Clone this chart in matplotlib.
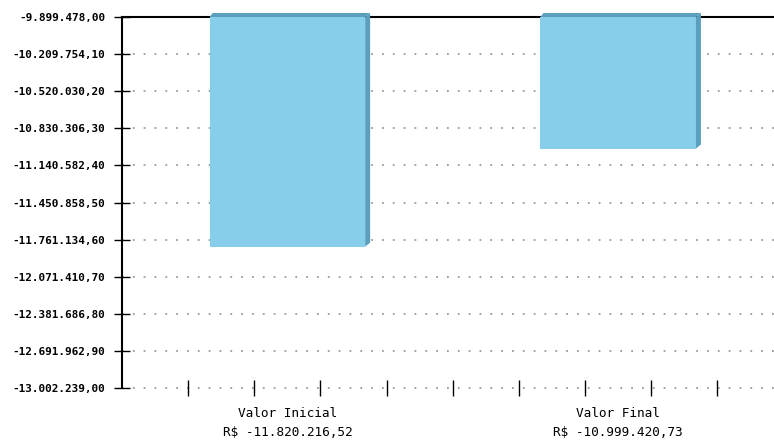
import matplotlib.pyplot as plt
from matplotlib.patches import Polygon

# data
categories = ['Valor Inicial', 'Valor Final']
values = [-11820216.52, -10999420.73]
value_labels = ['R$ -11.820.216,52', 'R$ -10.999.420,73']
y_top = -9899478.00
y_bottom = -13002239.00
y_ticks = [-9899478.00, -10209754.10, -10520030.20, -10830306.30, -11140582.40,
           -11450858.50, -11761134.60, -12071410.70, -12381686.80, -12691962.90,
           -13002239.00]
y_tick_labels = ['-9.899.478,00', '-10.209.754,10', '-10.520.030,20', '-10.830.306,30',
                 '-11.140.582,40', '-11.450.858,50', '-11.761.134,60', '-12.071.410,70',
                 '-12.381.686,80', '-12.691.962,90', '-13.002.239,00']
minor_x = [-0.3, -0.1, 0.1, 0.3, 0.5, 0.7, 0.9, 1.1, 1.3]

face = '#87ceea'
side = '#5a9fbd'
mono = 'DejaVu Sans Mono'

fig = plt.figure(figsize=(7.74, 4.42), dpi=100)
ax = fig.add_axes([122 / 774, 54 / 442, 652 / 774, 371 / 442])

x = list(range(len(categories)))
width = 0.47
ax.bar(x, [v - y_top for v in values], width, bottom=y_top, color=face,
       edgecolor='none', zorder=3)

# fake 3d sides
dx = 5 / 331
dy = 4 * (y_top - y_bottom) / 371
for xi, v in zip(x, values):
    x0, x1 = xi - width / 2, xi + width / 2
    top_face = Polygon([(x0, y_top), (x0 + dx * 0.6, y_top + dy), (x1 + dx, y_top + dy),
                        (x1, y_top)], closed=True, color=side, clip_on=False, zorder=4, lw=0)
    right_face = Polygon([(x1, y_top), (x1 + dx, y_top + dy), (x1 + dx, v + dy),
                          (x1, v)], closed=True, color=side, clip_on=False, zorder=4, lw=0)
    ax.add_patch(top_face)
    ax.add_patch(right_face)

ax.set_xlim(-0.5, 1.471)
ax.set_ylim(y_bottom, y_top)

ax.set_yticks(y_ticks)
ax.set_yticklabels(y_tick_labels, family=mono, fontsize=7.9, fontweight='bold')
ax.tick_params(axis='y', direction='inout', length=12, width=1, pad=6, color='black')

for yt in y_ticks[1:]:
    ax.axhline(yt, color='#9a9a9a', lw=1.3, ls=(0, (1, 5)), zorder=1, clip_on=False)

ax.set_xticks(minor_x)
ax.set_xticklabels([])
ax.tick_params(axis='x', direction='inout', length=12, width=1, color='black')

for xi, cat, lab in zip(x, categories, value_labels):
    ax.text(xi, -0.068, cat, transform=ax.get_xaxis_transform(), ha='center', va='center',
            family=mono, fontsize=9.2)
    ax.text(xi, -0.12, lab, transform=ax.get_xaxis_transform(), ha='center', va='center',
            family=mono, fontsize=9.2)

ax.spines['right'].set_visible(False)
ax.spines['bottom'].set_visible(False)
ax.spines['left'].set_linewidth(1.5)
ax.spines['top'].set_linewidth(1.5)

fig.savefig('out.png', dpi=100)
